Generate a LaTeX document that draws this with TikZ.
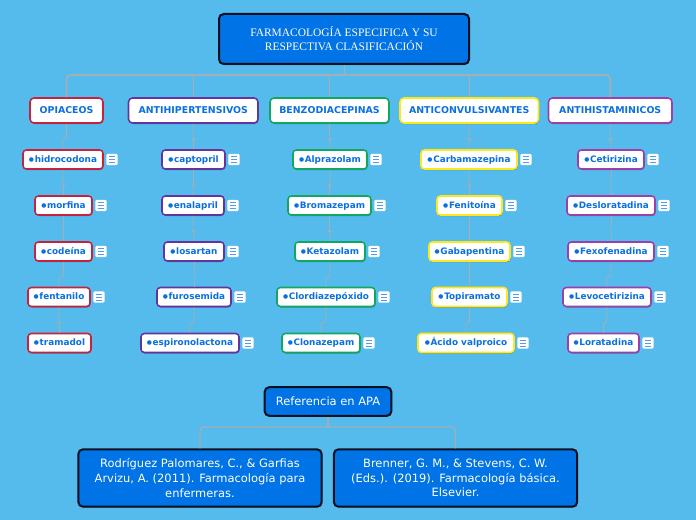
\documentclass[tikz,border=0pt]{standalone}
\usepackage{fontspec}
\setmainfont{DejaVu Sans}
\newfontfamily\serifroot{Liberation Serif}
\usetikzlibrary{calc,shadows}
\definecolor{bgc}{HTML}{55BBEC}
\definecolor{fillblue}{HTML}{0073E6}
\definecolor{edgeblack}{HTML}{0A1020}
\definecolor{linkc}{HTML}{A6ADB3}
\definecolor{txtblue}{HTML}{0A6FE0}
\definecolor{cred}{HTML}{C4223F}
\definecolor{cpur}{HTML}{64349C}
\definecolor{cgrn}{HTML}{10A860}
\definecolor{cyel}{HTML}{FFE81A}
\definecolor{cmag}{HTML}{9C3FA8}
\tikzset{
  x=0.75pt,y=-0.75pt,
  softshadow/.style={drop shadow={shadow xshift=0.5pt,shadow yshift=-0.8pt,opacity=.3,fill=black}},
  darkbox/.style={draw=edgeblack,fill=fillblue,line width=1.5pt,rounded corners=3.5pt,softshadow,text=white,align=center,inner sep=0pt,minimum height=#1},
  catbox/.style={draw=#1,fill=white,line width=1.15pt,rounded corners=3pt,softshadow,text=txtblue,font=\bfseries\fontsize{7.05}{9}\selectfont,inner sep=0pt,text height=5.2pt,text depth=0pt,minimum height=18.75pt},
  leafbox/.style={draw=#1,fill=white,line width=1.15pt,rounded corners=2.5pt,softshadow,text=txtblue,font=\bfseries\fontsize{6.65}{9}\selectfont,inner sep=0pt,text height=5pt,text depth=1.2pt,minimum height=14.25pt},
  link/.style={draw=linkc,line width=.6pt,rounded corners=1.5pt},
  trunk/.style={draw=linkc,line width=1.3pt,rounded corners=3pt},
  jog/.style={to path={let \p1=(\tikztostart),\p2=(\tikztotarget) in -- (\x1,\y2+7.5pt) -- (\x2,\y2+7.5pt) -- (\x2,\y2)}},
  menuicon/.style={fill=white,draw=none,rounded corners=1.5pt,minimum width=8.6pt,minimum height=8.6pt,inner sep=0pt,
    path picture={
      \draw[txtblue!70,line width=.6pt]
        ($(path picture bounding box.center)+(-2.6pt,-2.3pt)$) -- ++(5.2pt,0)
        ($(path picture bounding box.center)+(-2.6pt,0pt)$) -- ++(5.2pt,0)
        ($(path picture bounding box.center)+(-2.6pt,2.3pt)$) -- ++(5.2pt,0);
    }},
}
% name, x1, x2, y centre, colour, text
\newcommand{\plainleaf}[6]{\node[leafbox=#5,minimum width={(#3-#2)*0.75pt}] (#1) at ({(#2+#3)/2},#4) {\raisebox{0.75pt}{\fontsize{4.4}{5}\selectfont ●}\hspace{0.5pt}#6};}
\newcommand{\leaf}[6]{\plainleaf{#1}{#2}{#3}{#4}{#5}{#6}
  \node[menuicon] (#1i) at ({#3+9},#4) {};}
\newcommand{\cat}[5]{\node[catbox=#4,minimum width={(#3-#2)*0.75pt}] (#1) at ({(#2+#3)/2},110.5) {#5};}
\begin{document}
\begin{tikzpicture}
\useasboundingbox (0,0) rectangle (696,520);
\fill[bgc] (0,0) rectangle (696,520);

% nodes
\node[darkbox=37.5pt,minimum width=187.5pt,font=\serifroot\fontsize{8.6}{10.5}\selectfont] (root) at (344,39) {FARMACOLOGÍA ESPECIFICA Y SU\\RESPECTIVA CLASIFICACIÓN};

\coordinate (rootj) at (344.5,75);
\cat{c1}{30}{103}{cred}{OPIACEOS}
\cat{c2}{128.5}{258}{cpur}{ANTIHIPERTENSIVOS}
\cat{c3}{270}{389}{cgrn}{BENZODIACEPINAS}
\cat{c4}{400}{538.5}{cyel}{ANTICONVULSIVANTES}
\cat{c5}{548.5}{672}{cmag}{ANTIHISTAMINICOS}

\leaf{a1}{23}{103}{159.5}{cred}{hidrocodona}
\leaf{a2}{35}{92}{205.5}{cred}{morfina}
\leaf{a3}{35}{92}{251.5}{cred}{codeína}
\leaf{a4}{28}{90}{297}{cred}{fentanilo}
\plainleaf{a5}{28}{91}{343}{cred}{tramadol}

\leaf{b1}{162}{225}{159.5}{cpur}{captopril}
\leaf{b2}{162}{224}{205.5}{cpur}{enalapril}
\leaf{b3}{164}{224}{251.5}{cpur}{losartan}
\leaf{b4}{157}{231}{297}{cpur}{furosemida}
\leaf{b5}{141}{239}{343}{cpur}{espironolactona}

\leaf{d1}{293}{367}{159.5}{cgrn}{Alprazolam}
\leaf{d2}{288}{371}{205.5}{cgrn}{Bromazepam}
\leaf{d3}{295}{365}{251.5}{cgrn}{Ketazolam}
\leaf{d4}{277}{375}{297}{cgrn}{Clordiazepóxido}
\leaf{d5}{282}{360}{343}{cgrn}{Clonazepam}

\leaf{e1}{421}{517}{159.5}{cyel}{Carbamazepina}
\leaf{e2}{437}{502}{205.5}{cyel}{Fenitoína}
\leaf{e3}{429}{510}{251.5}{cyel}{Gabapentina}
\leaf{e4}{432}{507}{297}{cyel}{Topiramato}
\leaf{e5}{418}{514}{343}{cyel}{Ácido valproico}

\leaf{f1}{578}{644}{159.5}{cmag}{Cetirizina}
\leaf{f2}{567}{655}{205.5}{cmag}{Desloratadina}
\leaf{f3}{568}{654}{251.5}{cmag}{Fexofenadina}
\leaf{f4}{563}{651}{297}{cmag}{Levocetirizina}
\leaf{f5}{568}{639}{343}{cmag}{Loratadina}

\node[darkbox=21.5pt,minimum width=95pt,font=\fontsize{8.6}{11}\selectfont] (apa) at (328,401.5) {Referencia en APA};
\node[darkbox=43pt,minimum width=182.5pt,font=\fontsize{8.6}{11}\selectfont] (r1) at (200,478) {Rodríguez Palomares, C., \& Garfias\\Arvizu, A. (2011). Farmacología para\\enfermeras.};
\node[darkbox=43pt,minimum width=182.5pt,font=\fontsize{8.6}{11}\selectfont] (r2) at (455.5,478) {Brenner, G. M., \& Stevens, C. W.\\(Eds.). (2019). Farmacología básica.\\Elsevier.};

% connectors
\draw[trunk] (root.south -| rootj) -- (rootj);
\draw[trunk] (c1.north) -- (c1.north |- rootj) -- (rootj);
\draw[trunk] (c5.north) -- (c5.north |- rootj) -- (rootj);
\draw[link] (c2.north) -- (c2.north |- rootj);
\draw[link] (c3.north) -- (c3.north |- rootj);
\draw[link] (c4.north) -- (c4.north |- rootj);

\foreach \p/\a/\b/\c/\d/\e in {c1/a1/a2/a3/a4/a5,c2/b1/b2/b3/b4/b5,c3/d1/d2/d3/d4/d5,c4/e1/e2/e3/e4/e5,c5/f1/f2/f3/f4/f5}{
  \draw[link] (\p.south) to[jog] (\a.north);
  \draw[link] (\a.south) to[jog] (\b.north);
  \draw[link] (\b.south) to[jog] (\c.north);
  \draw[link] (\c.south) to[jog] (\d.north);
  \draw[link] (\d.south) to[jog] (\e.north);
}

\coordinate (apaj) at (328,427);
\draw[trunk,line width=.9pt] (apa.south) -- (apaj);
\draw[trunk,line width=.9pt] (r1.north) -- (r1.north |- apaj) -- (r2.north |- apaj) -- (r2.north);
\end{tikzpicture}
\end{document}
